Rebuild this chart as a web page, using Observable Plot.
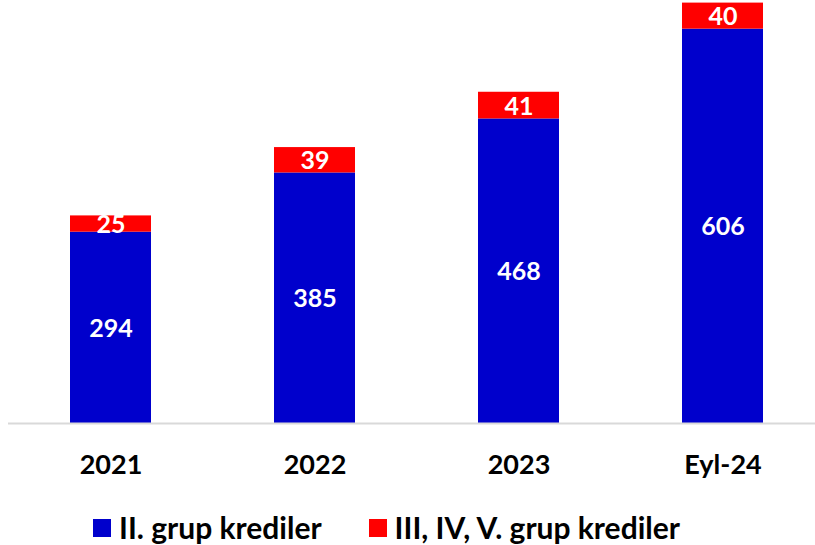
<!DOCTYPE html>
<html>
<head>
<meta charset="utf-8">
<script src="https://cdn.jsdelivr.net/npm/d3@7"></script>
<script src="https://cdn.jsdelivr.net/npm/@observablehq/plot@0.6"></script>
<style>
  html, body { margin: 0; padding: 0; background: #fff; }
  #chart { width: 815px; }
  .legend { display: flex; align-items: center; height: 54px; padding-left: 93px;
    font-family: Lato, "Open Sans", sans-serif; font-weight: bold; font-size: 30px; color: #000; }
  .item { display: flex; align-items: center; margin-right: 47px; }
  .sw { width: 18px; height: 18px; margin-right: 8px; margin-top: 2px; }
</style>
</head>
<body>
<div id="chart"></div>
<script>
const categories = ["2021", "2022", "2023", "Eyl-24"];
const seriesNames = ["II. grup krediler", "III, IV, V. grup krediler"];
const group2 = [294, 385, 468, 606];
const group345 = [25, 39, 41, 40];
const colors = ["#0000CC", "#FF0000"];

const data = [];
categories.forEach((c, i) => data.push({cat: c, series: seriesNames[0], value: group2[i]}));
categories.forEach((c, i) => data.push({cat: c, series: seriesNames[1], value: group345[i]}));

const plot = Plot.plot({
  width: 815,
  height: 500,
  marginTop: 0,
  marginBottom: 77,
  marginLeft: 8,
  marginRight: 0,
  style: {fontFamily: "Lato, 'Open Sans', sans-serif", fontWeight: "bold", background: "#fff", color: "#000"},
  x: {domain: categories, range: [8.5, 824.5], paddingInner: 0.603, paddingOuter: 0.3015, label: null},
  y: {domain: [0, 650], axis: null},
  color: {domain: seriesNames, range: colors},
  marks: [
    Plot.barY(data, Plot.stackY({x: "cat", y: "value", fill: "series", z: "series"})),
    Plot.ruleY([0], {stroke: "#d9d9d9", strokeWidth: 2}),
    Plot.text(data, Plot.stackY({x: "cat", y: "value", z: "series", text: d => String(d.value),
      fill: "#fff", fontSize: 25, fontWeight: "bold", dy: 1})),
    Plot.axisX({tickSize: 0, tickPadding: 31, fontSize: 27, fontWeight: "bold", fill: "#000", label: null})
  ]
});
document.getElementById("chart").appendChild(plot);

const legend = document.createElement("div");
legend.className = "legend";
seriesNames.forEach((s, i) => {
  const it = document.createElement("div");
  it.className = "item";
  const sw = document.createElement("div");
  sw.className = "sw";
  sw.style.background = colors[i];
  const t = document.createElement("span");
  t.textContent = s;
  it.appendChild(sw);
  it.appendChild(t);
  legend.appendChild(it);
});
document.getElementById("chart").appendChild(legend);
</script>
</body>
</html>
